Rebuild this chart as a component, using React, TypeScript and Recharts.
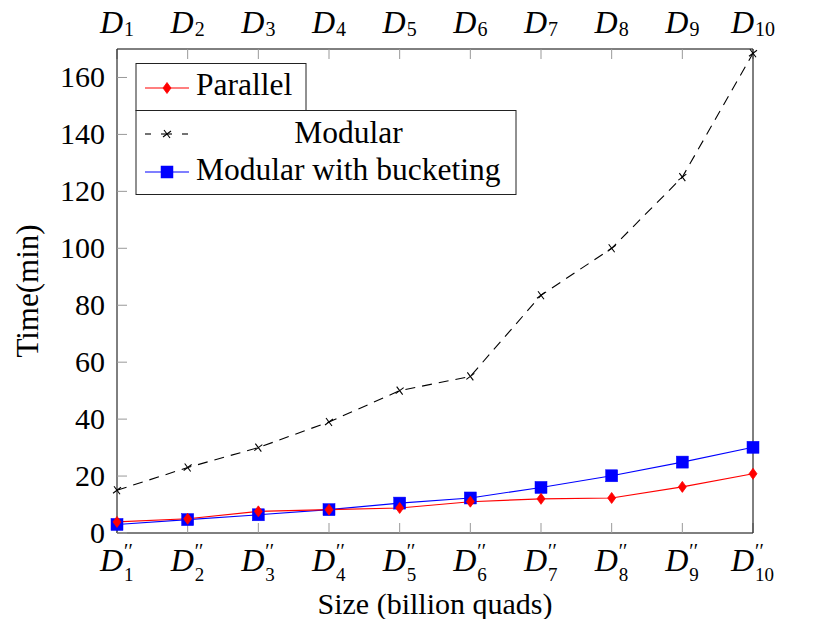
import React from 'react';
import { LineChart, Line, XAxis, YAxis } from 'recharts';

const serif = "'Liberation Serif', 'Times New Roman', serif";

const sizes = ['1', '2', '3', '4', '5', '6', '7', '8', '9', '10'];
const parallel = [3.9, 5, 7.6, 8.2, 8.8, 11, 12, 12.3, 16.2, 20.8];
const modular = [15, 23, 30, 39, 50, 55, 83.5, 100, 125, 168.5];
const bucketing = [3, 4.7, 6.4, 8.2, 10.5, 12.3, 16, 20.1, 24.9, 30.1];
const yTicks = [0, 20, 40, 60, 80, 100, 120, 140, 160];

const data = sizes.map((s, i) => ({
  size: s,
  parallel: parallel[i],
  modular: modular[i],
  bucketing: bucketing[i],
}));

const TopTick = ({ x, y, payload }: any) => (
  <text x={x} y={y - 16} textAnchor="middle" fontFamily={serif} fill="#000">
    <tspan fontStyle="italic" fontSize={32}>D</tspan>
    <tspan fontSize={20} dx={1} dy={3}>{payload.value}</tspan>
  </text>
);

const BottomTick = ({ x, y, payload }: any) => {
  const n = String(payload.value);
  const start = x - (24 + n.length * 10) / 2;
  return (
    <g fontFamily={serif} fill="#000">
      <text x={start} y={y + 38} fontStyle="italic" fontSize={32}>D</text>
      <text x={start + 24} y={y + 25} fontSize={20}>′′</text>
      <text x={start + 24} y={y + 48} fontSize={19}>{n}</text>
    </g>
  );
};

const LeftTick = ({ x, y, payload }: any) => (
  <text x={x} y={y + 10} textAnchor="end" fontFamily={serif} fontSize={30} fill="#000">{payload.value}</text>
);

const RightTick = ({ x, y, payload }: any) => (
  <text x={x} y={y + 10} textAnchor="start" fontFamily={serif} fontSize={30} fill="#000">{payload.value}</text>
);

const Diamond = ({ cx, cy }: any) => (
  <path d={`M${cx},${cy - 5.5}L${cx + 4},${cy}L${cx},${cy + 5.5}L${cx - 4},${cy}Z`} fill="#ff0000" stroke="#ff0000" strokeWidth={0.8} />
);

const Square = ({ cx, cy }: any) => (
  <rect x={cx - 6} y={cy - 6} width={12} height={12} fill="#0000ff" stroke="#0000ff" strokeWidth={0.5} />
);

const Cross = ({ cx, cy }: any) => (
  <path d={`M${cx - 4},${cy + 3}L${cx + 4},${cy - 3}M${cx - 3},${cy - 4}L${cx + 3},${cy + 4}`} stroke="#000" strokeWidth={1.1} fill="none" />
);

export default function App() {
  return (
    <div style={{ position: 'absolute', left: 0, top: 0, width: 814, height: 619, background: '#fff' }}>
      <LineChart width={814} height={619} data={data} margin={{ top: 0, right: 0, bottom: 0, left: 0 }}>
        <XAxis
          xAxisId="bottom"
          dataKey="size"
          orientation="bottom"
          height={86}
          interval={0}
          tickSize={-10}
          tickMargin={10}
          tickLine={{ stroke: '#999' }}
          axisLine={{ stroke: '#000' }}
          tick={<BottomTick />}
          label={{ value: 'Size (billion quads)', position: 'insideBottom', offset: 5, style: { fontSize: 30, fill: '#000', fontFamily: serif } }}
        />
        <XAxis
          xAxisId="top"
          dataKey="size"
          orientation="top"
          height={49}
          interval={0}
          tickSize={-10}
          tickMargin={10}
          tickLine={{ stroke: '#999' }}
          axisLine={{ stroke: '#000' }}
          tick={<TopTick />}
        />
        <YAxis
          yAxisId="left"
          orientation="left"
          width={117}
          type="number"
          domain={[0, 170]}
          ticks={yTicks}
          interval={0}
          tickSize={-10}
          tickMargin={22}
          tickLine={{ stroke: '#999' }}
          axisLine={{ stroke: '#000' }}
          tick={<LeftTick />}
          label={{ value: 'Time(min)', angle: -90, position: 'insideLeft', offset: 27, style: { textAnchor: 'middle', fontSize: 31, fill: '#000', fontFamily: serif } }}
        />
        <YAxis
          yAxisId="right"
          orientation="right"
          width={61}
          type="number"
          domain={[0, 170]}
          ticks={yTicks}
          interval={0}
          tickSize={-10}
          tickMargin={19}
          tickLine={{ stroke: '#999' }}
          axisLine={{ stroke: '#000' }}
          tick={<RightTick />}
        />
        <Line
          xAxisId="bottom"
          yAxisId="left"
          dataKey="modular"
          name="Modular"
          stroke="#000"
          strokeWidth={1.1}
          strokeDasharray="10 7"
          dot={(p: any) => <Cross key={p.index} {...p} />}
          activeDot={false}
          isAnimationActive={false}
        />
        <Line
          xAxisId="bottom"
          yAxisId="left"
          dataKey="bucketing"
          name="Modular with bucketing"
          stroke="#0000ff"
          strokeWidth={1.1}
          dot={(p: any) => <Square key={p.index} {...p} />}
          activeDot={false}
          isAnimationActive={false}
        />
        <Line
          xAxisId="bottom"
          yAxisId="left"
          dataKey="parallel"
          name="Parallel"
          stroke="#ff0000"
          strokeWidth={1.1}
          dot={(p: any) => <Diamond key={p.index} {...p} />}
          activeDot={false}
          isAnimationActive={false}
        />
      </LineChart>
      {/* legend drawn on top, two stacked boxes like the original */}
      <svg width={814} height={619} style={{ position: 'absolute', left: 0, top: 0, pointerEvents: 'none' }}>
        <g fontFamily={serif} fontSize={31.5} fill="#000">
          <rect x={136} y={63.5} width={170} height={47} fill="#fff" stroke="#222" />
          <rect x={136} y={110.5} width={380} height={84} fill="#fff" stroke="#222" />
          <line x1={145} y1={88} x2={189} y2={88} stroke="#ff0000" strokeWidth={1.1} />
          <Diamond cx={167} cy={88} />
          <text x={196} y={95}>Parallel</text>
          <line x1={145} y1={134} x2={151} y2={134} stroke="#000" strokeWidth={1.1} />
          <line x1={161} y1={134} x2={172} y2={134} stroke="#000" strokeWidth={1.1} />
          <line x1={182} y1={134} x2={188} y2={134} stroke="#000" strokeWidth={1.1} />
          <Cross cx={167} cy={134} />
          <text x={348.5} y={143} textAnchor="middle">Modular</text>
          <line x1={145} y1={172} x2={189} y2={172} stroke="#0000ff" strokeWidth={1.1} />
          <Square cx={167} cy={172} />
          <text x={196} y={180}>Modular with bucketing</text>
        </g>
      </svg>
    </div>
  );
}
